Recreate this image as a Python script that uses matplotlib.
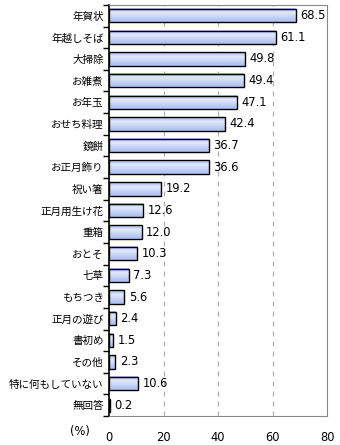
import numpy as np
import matplotlib
matplotlib.use("Agg")
import matplotlib.pyplot as plt
from matplotlib.ticker import FixedLocator

plt.rcParams['font.family'] = ['Noto Sans CJK JP', 'DejaVu Sans']

labels = ["年賀状", "年越しそば", "大掃除", "お雑煮", "お年玉", "おせち料理", "鏡餅",
          "お正月飾り", "祝い箸", "正月用生け花", "重箱", "おとそ", "七草", "もちつき",
          "正月の遊び", "書初め", "その他", "特に何もしていない", "無回答"]
values = [68.5, 61.1, 49.8, 49.4, 47.1, 42.4, 36.7, 36.6, 19.2, 12.6, 12.0, 10.3,
          7.3, 5.6, 2.4, 1.5, 2.3, 10.6, 0.2]
xticks = [0, 20, 40, 60, 80]

fig = plt.figure(figsize=(3.4, 4.45), dpi=100)
ax = fig.add_axes([0.321, 0.065, 0.641, 0.924])

y = np.arange(len(labels))
bars = ax.barh(y, values, height=0.62, color="none", edgecolor="black", linewidth=1.0, zorder=3)

# vertical gradient inside each bar
grad = np.array([0.0, 0.4, 0.7, 1.0]).reshape(-1, 1)
cmap = matplotlib.colors.LinearSegmentedColormap.from_list(
    "barfill", ["#b9c9f4", "#e2e9fc", "#cbd7f8", "#b2c3f2"])
for b in bars:
    x0, y0 = b.get_x(), b.get_y()
    w, h = b.get_width(), b.get_height()
    ax.imshow(grad, cmap=cmap, aspect="auto", extent=(x0, x0 + w, y0 + h, y0),
              zorder=2, interpolation="bilinear")

for yi, v in zip(y, values):
    ax.text(v + 1.6, yi, f"{v:.1f}", va="center", ha="left", fontsize=8.3, color="black",
            family=["DejaVu Sans"])

ax.set_xlim(0, 80)
ax.set_ylim(len(labels) - 0.5, -0.5)
ax.set_xticks(xticks)
ax.set_xticklabels([str(t) for t in xticks], family=["DejaVu Sans"])
ax.tick_params(axis="x", length=0, pad=11, labelsize=8.3)
ax.set_yticks(y)
ax.set_yticklabels(labels, fontsize=7.6)
ax.tick_params(axis="y", which="major", length=0, pad=4)
ax.yaxis.set_minor_locator(FixedLocator(np.arange(-0.5, len(labels), 1.0)))
ax.tick_params(axis="y", which="minor", length=4, width=1, color="black")

for gx in [20, 40, 60]:
    ax.axvline(gx, color="#b0b0b0", linestyle=(0, (4, 4)), linewidth=0.9, zorder=1)

for side in ["top", "right", "bottom"]:
    ax.spines[side].set_color("#888888")
ax.spines["left"].set_color("black")
ax.spines["left"].set_linewidth(1.2)

fig.text(80 / 340, 1 - 432 / 445, "(%)", ha="center", va="center", fontsize=8.3,
         family=["DejaVu Sans"])

fig.savefig("out.png", dpi=100)
